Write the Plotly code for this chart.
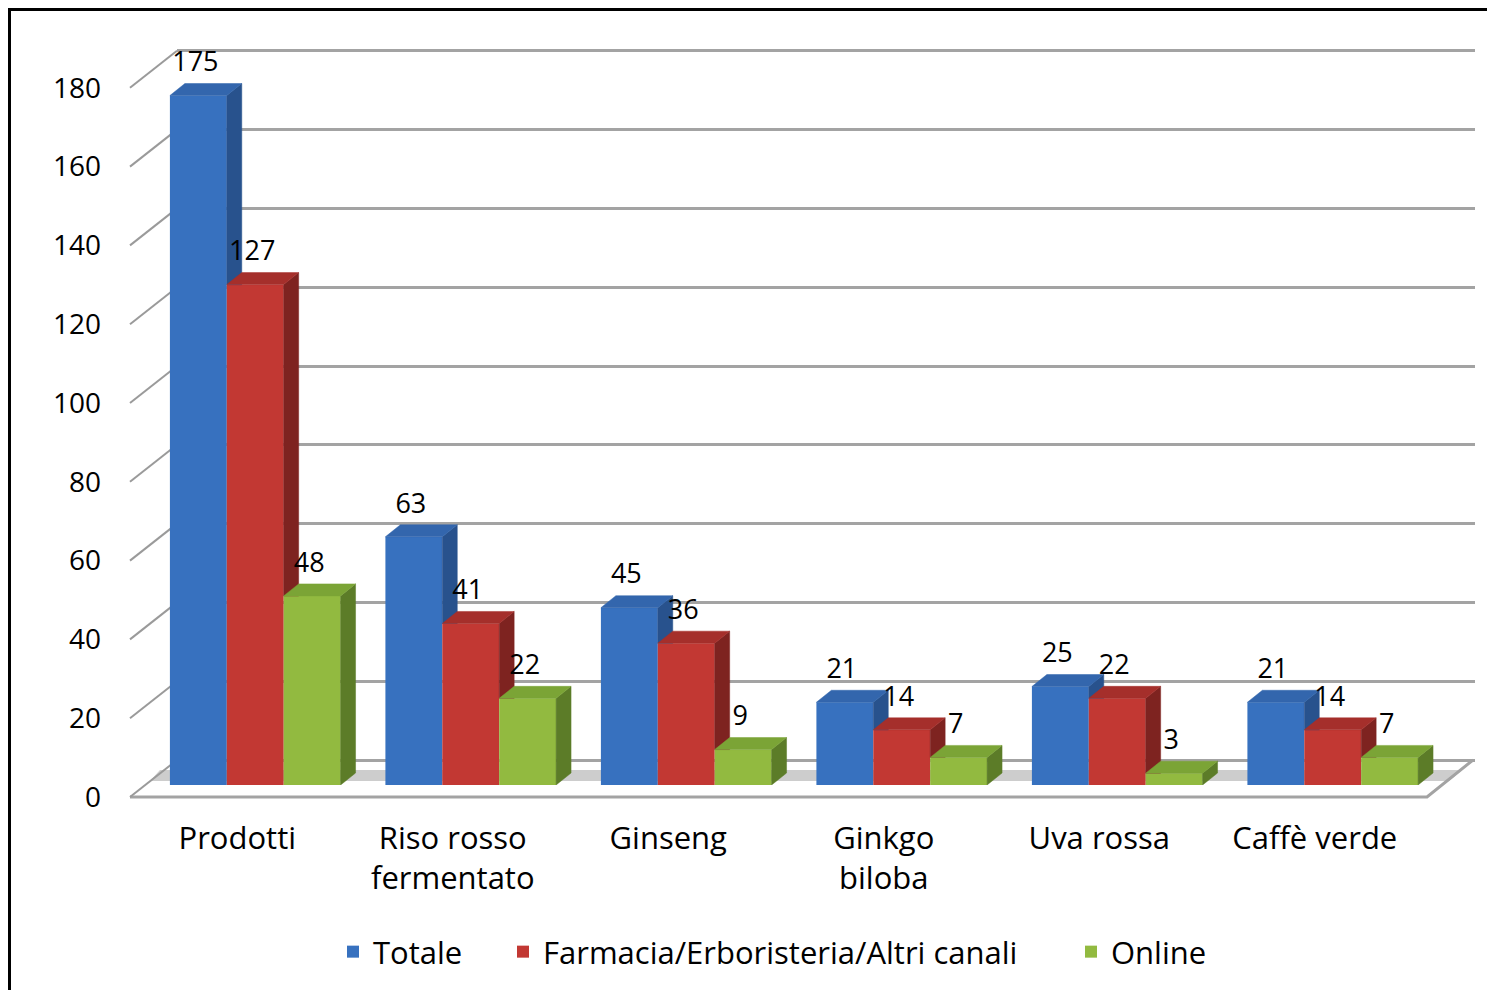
import plotly.graph_objects as go

# ---------------- data ----------------
categories = ["Prodotti", "Riso rosso<br>fermentato", "Ginseng", "Ginkgo<br>biloba", "Uva rossa", "Caffè verde"]
series_names = ["Totale", "Farmacia/Erboristeria/Altri canali", "Online"]
totale = [175, 63, 45, 21, 25, 21]
farmacia = [127, 41, 36, 14, 22, 14]
online = [48, 22, 9, 7, 3, 7]
y_ticks = [0, 20, 40, 60, 80, 100, 120, 140, 160, 180]

# ---------------- style ----------------
OFF = 8                      # page body margin
W, H = 1495 - OFF, 990 - OFF  # figure size so it fits the window
FONT = "Open Sans"
front_cols = ["#3771bf", "#c23833", "#92ba40"]
side_cols = ["#28528d", "#7e2320", "#5c7c28"]
top_cols = ["#3366ad", "#a52f2b", "#7ba436"]

UNIT = 3.94          # px per value unit
BAR_BASE = 785       # screen px, baseline of bars (mid depth)
BACK_BASE = 760      # screen px, baseline of back wall
FRONT_BASE = 797     # screen px, baseline of front edge
YMAX = 180
GRID_TOP = 181       # slightly above the last tick so its gridline is drawn
BAR_TOP = 195        # bar axis top, leaves room for the value labels
CAT_PX = 216         # px per category
BARGAP = 0.208
DX_PX, DY_PX = 15, 12


def px(x):
    return (x - OFF) / W


def py(y):
    return 1 - (y - OFF) / H


series = [totale, farmacia, online]
n = len(categories)
bw = (1 - BARGAP) / 3
DX = DX_PX / CAT_PX
DY = DY_PX / UNIT

fig = go.Figure()

# back wall grid (first subplot, drawn beneath bars)
fig.add_trace(go.Scatter(x=[None], y=[None], xaxis="x", yaxis="y", showlegend=False, hoverinfo="skip"))
# front tick label + category label axes
fig.add_trace(go.Scatter(x=[None], y=[None], xaxis="x3", yaxis="y3", showlegend=False, hoverinfo="skip"))

legend_ids = ["legend", "legend2", "legend3"]
# bars (front faces)
for s, vals in enumerate(series):
    fig.add_trace(go.Bar(
        x=list(range(n)), y=vals, name=series_names[s],
        marker=dict(color=front_cols[s], line=dict(width=0)),
        xaxis="x2", yaxis="y2", hoverinfo="skip", legend=legend_ids[s],
    ))

# 3D side and top faces computed from the values
for s, vals in enumerate(series):
    sx, sy, tx, ty = [], [], [], []
    for i, v in enumerate(vals):
        xc = i + (s - 1) * bw
        x0, x1 = xc - bw / 2, xc + bw / 2
        if s < 2:
            yb = series[s + 1][i]
            sx += [x1, x1 + DX, x1 + DX, x1, x1, None]
            sy += [yb, yb, v + DY, v, yb, None]
        else:
            sx += [x1, x1 + DX, x1 + DX, x1, x1, None]
            sy += [0, DY, v + DY, v, 0, None]
        tx += [x0, x1, x1 + DX, x0 + DX, x0, None]
        ty += [v, v, v + DY, v + DY, v, None]
    fig.add_trace(go.Scatter(x=sx, y=sy, mode="lines", fill="toself", fillcolor=side_cols[s],
                             line=dict(width=0.5, color=side_cols[s]), xaxis="x2", yaxis="y2",
                             showlegend=False, hoverinfo="skip"))
    fig.add_trace(go.Scatter(x=tx, y=ty, mode="lines", fill="toself", fillcolor=top_cols[s],
                             line=dict(width=0.5, color=top_cols[s]), xaxis="x2", yaxis="y2",
                             showlegend=False, hoverinfo="skip"))

# value labels
lx, ly, lt = [], [], []
for s, vals in enumerate(series):
    for i, v in enumerate(vals):
        lx.append(i + (s - 1) * bw - 3 / CAT_PX)
        ly.append(v + 31 / UNIT)
        lt.append(str(v))
fig.add_trace(go.Scatter(x=lx, y=ly, text=lt, mode="text", textposition="middle center",
                         textfont=dict(family=FONT, size=27, color="black"), cliponaxis=False,
                         xaxis="x2", yaxis="y2", showlegend=False, hoverinfo="skip"))

# ---------------- shapes: frame, floor, depth ticks ----------------
shapes = []
# frame
shapes.append(dict(type="line", xref="paper", yref="paper", x0=px(8), y0=py(9.5), x1=px(1495), y1=py(9.5),
                   line=dict(color="black", width=3)))
shapes.append(dict(type="line", xref="paper", yref="paper", x0=px(9.5), y0=py(8), x1=px(9.5), y1=py(990),
                   line=dict(color="black", width=3)))
# floor shadow band
shapes.append(dict(type="path", xref="paper", yref="paper",
                   path=f"M{px(160)},{py(770)} L{px(1462)},{py(770)} L{px(1449)},{py(781)} L{px(150)},{py(781)} Z",
                   fillcolor="#cdcdcd", line=dict(width=0), layer="below"))
# floor front + right edge
shapes.append(dict(type="path", xref="paper", yref="paper",
                   path=f"M{px(130)},{py(FRONT_BASE)} L{px(1427)},{py(FRONT_BASE)} L{px(1473)},{py(BACK_BASE)}",
                   line=dict(color="#a3a3a3", width=3), layer="below"))
# depth tick lines from the front labels to the back wall
for v in y_ticks:
    shapes.append(dict(type="line", xref="paper", yref="paper",
                       x0=px(130), y0=py(FRONT_BASE - v * UNIT), x1=px(177), y1=py(BACK_BASE - v * UNIT),
                       line=dict(color="#9a9a9a", width=2), layer="below"))

legend_common = dict(orientation="h", y=py(952), xanchor="left", yanchor="middle",
                     font=dict(family=FONT, size=31, color="black"), bgcolor="rgba(0,0,0,0)",
                     borderwidth=0)
legend_swatch_x = [353, 523, 1091]

fig.update_layout(
    width=W, height=H,
    margin=dict(l=0, r=0, t=0, b=0, autoexpand=False),
    paper_bgcolor="white", plot_bgcolor="rgba(0,0,0,0)",
    barmode="group", bargap=BARGAP, bargroupgap=0,
    font=dict(family=FONT, color="black"),
    shapes=shapes,
    showlegend=True,
    legend=dict(x=px(legend_swatch_x[0] - 20), **legend_common),
    legend2=dict(x=px(legend_swatch_x[1] - 20), **legend_common),
    legend3=dict(x=px(legend_swatch_x[2] - 20), **legend_common),
    # back wall grid
    xaxis=dict(domain=[px(177), px(1475)], range=[0, 1], visible=False, fixedrange=True),
    yaxis=dict(domain=[py(BACK_BASE), py(BACK_BASE - GRID_TOP * UNIT)], range=[0, GRID_TOP], tickvals=y_ticks,
               showticklabels=False, showgrid=True, gridcolor="#a3a3a3", gridwidth=2.5,
               zeroline=True, zerolinecolor="#a3a3a3", zerolinewidth=2.5, showline=False, anchor="x", ticks=""),
    # bars
    xaxis2=dict(domain=[px(147.5), px(1440.5)], range=[-0.5, n - 0.5], visible=False, anchor="y2"),
    yaxis2=dict(domain=[py(BAR_BASE), py(BAR_BASE - BAR_TOP * UNIT)], range=[0, BAR_TOP], visible=False,
                anchor="x2"),
    # front labels
    xaxis3=dict(domain=[px(147.5 - 18), px(1440.5 - 18)], range=[-0.5, n - 0.5], tickvals=list(range(n)),
                ticktext=categories, anchor="free", position=py(817), showgrid=False, zeroline=False,
                showline=False, ticks="", tickfont=dict(family=FONT, size=31, color="black")),
    yaxis3=dict(domain=[py(FRONT_BASE), py(FRONT_BASE - YMAX * UNIT)], range=[0, YMAX], tickvals=y_ticks,
                anchor="free", position=px(101), side="left", showgrid=False, zeroline=False,
                showline=False, ticks="", tickfont=dict(family=FONT, size=28, color="black")),
)

fig.write_html("out.html")
